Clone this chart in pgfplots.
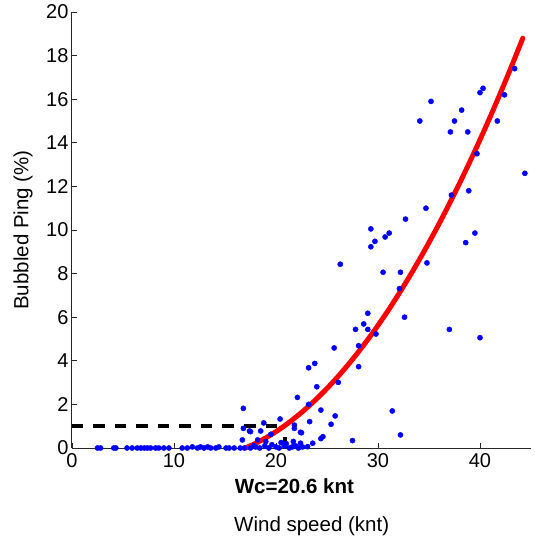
\documentclass[border=0pt]{standalone}
\usepackage{pgfplots}
\pgfplotsset{compat=1.18}
\usepackage{fontspec}
\setmainfont{Liberation Sans}
\begin{document}
\begin{tikzpicture}
\begin{axis}[
  scale only axis, width=459pt, height=436pt,
  at={(0,0)}, anchor=south west,
  xmin=0, xmax=45, ymin=0, ymax=20,
  axis lines=left,
  axis line style={-, line width=1pt, black!85},
  xtick={0,10,20,30,40}, ytick={0,2,...,20},
  tick align=inside, major tick length=5pt,
  tick style={black!85, line width=0.8pt},
  ticklabel style={font=\fontsize{20}{24}\selectfont},
  xticklabel style={yshift=-2pt},
  /pgf/number format/assume math mode=true,
  clip=false,
]
% scatter
\addplot[only marks, mark=*, mark size=2.6pt, draw=blue, fill=blue] coordinates {
(2.5,0)(2.8,0)(4.1,0)(4.3,0)(5.4,0)(5.9,0)(6.4,0)(6.75,0)(7.1,0)(7.4,0)(7.7,0)(8.2,0)(8.5,0)(9.0,0)(9.5,0)
(10.8,0)(11.3,0)(11.8,0.05)(12.3,0)(12.6,0.05)(12.95,0)(13.3,0.05)(13.6,0)(14.1,0)(14.4,0.05)(15.1,0)(15.4,0)(15.9,0)(16.5,0)
(16.9,0)(17.5,0)(17.8,0.12)(18.0,0.05)(18.4,0)(18.9,0.1)(19.0,0.3)(19.3,0)(19.6,0.15)(20.0,0.05)(20.3,0)(20.5,0.25)
(20.8,0.1)(21.0,0.2)(21.3,0)(21.6,0.05)(21.7,0.3)(21.9,0.1)(22.2,0)(22.6,0.05)(23.1,0.06)
(16.8,1.82)(16.8,0.9)(17.4,0.78)(17.5,0.75)(16.7,0.37)(18.2,0.37)(18.5,0.78)(18.8,1.15)(19.5,0.63)(20.4,1.33)
(21.8,0.9)(21.8,1.05)(22.4,0.72)(22.1,2.32)(23.2,2.0)(24.0,2.81)(26.1,3.01)(23.2,3.68)(23.8,3.88)(24.4,1.74)
(25.8,1.47)(23.3,1.21)(25.4,1.09)(22.5,0.70)(24.6,0.52)(24.4,0.43)(27.5,0.34)(23.6,0.22)(22.4,0.22)
(31.4,1.7)(32.2,0.6)(25.7,4.59)(28.1,4.69)(28.1,3.73)(27.8,5.44)(29.0,5.44)(29.8,5.23)(28.6,5.69)(29.0,6.18)
(32.6,6.0)(26.3,8.43)(29.3,9.23)(29.7,9.48)(29.3,10.05)(30.7,9.68)(31.1,9.86)(32.7,10.5)(30.5,8.06)(32.2,8.06)
(32.1,7.31)(34.8,8.49)(34.7,11.0)(37.2,11.6)(38.9,11.8)(39.5,9.86)(38.6,9.42)(37.0,5.44)(40.0,5.06)
(39.7,13.5)(37.1,14.5)(38.8,14.5)(37.5,15.0)(38.2,15.5)(35.2,15.9)(34.1,15.0)(40.0,16.3)(40.3,16.5)
(41.7,15.0)(42.4,16.2)(43.4,17.4)(44.4,12.6)
};
% dashed threshold
\addplot[black, line width=4pt, dash pattern=on 11.5pt off 10pt] coordinates {(0,1)(20.9,1)};
\addplot[black, line width=4pt] coordinates {(20.9,0)(20.9,0.5)};
% fitted curve
\addplot[red, line width=5pt, smooth, line cap=round] coordinates {
(17,0)(18,0.214)(19,0.465)(20,0.752)(21,1.075)(22,1.435)(23,1.832)(24,2.264)(25,2.733)(26,3.239)
(27,3.781)(28,4.359)(29,4.974)(30,5.625)(31,6.313)(32,7.037)(33,7.798)(34,8.595)(35,9.428)(36,10.298)
(37,11.204)(38,12.147)(39,13.126)(40,14.141)(41,15.193)(42,16.281)(43,17.406)(44,18.567)(44.2,18.8)
};
\node[font=\fontsize{20.5}{24}\selectfont\bfseries] at (axis cs:21.8,-1.77) {Wc=20.6 knt};
\node[font=\fontsize{20.5}{24}\selectfont] at (axis cs:23.5,-3.58) {Wind speed (knt)};
\node[rotate=90, font=\fontsize{20.5}{24}\selectfont] at (axis cs:-4.8,10) {Bubbled Ping (\%)};
\end{axis}
\path (-72pt,-94pt) rectangle (463pt,448pt);
\end{tikzpicture}
\end{document}
